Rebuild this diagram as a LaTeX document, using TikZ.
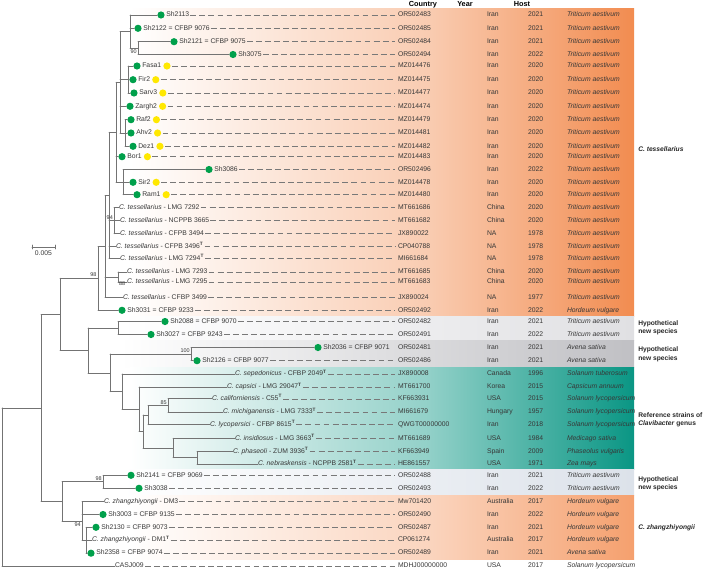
\documentclass[tikz,border=0pt]{standalone}
\usepackage{fontspec}
\setmainfont{Liberation Sans}
\usetikzlibrary{positioning}
\definecolor{orng}{RGB}{242,140,80}
\definecolor{orngb}{RGB}{245,160,110}
\definecolor{tealc}{RGB}{10,150,132}
\definecolor{grayA}{RGB}{224,224,227}
\definecolor{grayB}{RGB}{192,192,196}
\definecolor{bgray}{RGB}{220,226,234}
\definecolor{txt}{RGB}{55,55,55}
\definecolor{brc}{RGB}{115,115,115}
\definecolor{ldc}{RGB}{120,120,120}
\definecolor{grn}{RGB}{0,160,75}
\definecolor{ylw}{RGB}{255,232,0}
\newcommand{\fsz}{\fontsize{5.1pt}{6.1pt}\selectfont}
\newcommand{\fszb}{\fontsize{4.1pt}{4.9pt}\selectfont}
\newcommand{\fszh}{\fontsize{5.5pt}{6.5pt}\selectfont}
\newcommand{\fszr}{\fontsize{5pt}{6.3pt}\selectfont}
\newcommand{\typeT}{\textsuperscript{\textbf{T}}}
\newcommand{\tedge}[2]{\draw[br] (#1 |- #2) -- (#2);}
\newcommand{\tvspan}[3]{\draw[br] (#1 |- #2) -- (#1 |- #3);}
\newcommand{\gleaf}[4]{\node[gdot] (g#1) at (#2,#3) {};\node[lbl, right=1.1pt of g#1] (t#1) {#4};}
\newcommand{\yleaf}[1]{\node[ydot, right=1.4pt of t#1] (y#1) {};}
\newcommand{\tleaf}[4]{\node[lbl] (t#1) at (#2,#3) {#4};}
\newcommand{\ldr}[2]{\draw[leader] (#1.east) -- (#1.east -| acc#2.west);}
\newcommand{\bandtwo}[3]{%
 \shade[left color=white, right color=#3!45!white] (130,#1) rectangle (431,#2);
 \shade[left color=#3!45!white, right color=#3] (430,#1) rectangle (634,#2);}
\newcommand{\bandone}[3]{%
 \shade[left color=white, right color=#3] (120,#1) rectangle (634,#2);}
\tikzset{
 lbl/.style={anchor=west, inner sep=0pt, outer sep=0pt, font=\fsz, text=txt, text height=3.7pt, text depth=1.1pt},
 br/.style={draw=brc, line width=0.6pt, line cap=round},
 leader/.style={draw=ldc, line width=0.45pt, dash pattern=on 4.4pt off 2.4pt, shorten <=0.8pt, shorten >=2.2pt},
 gdot/.style={circle, fill=grn, inner sep=0pt, minimum size=5.4pt},
 ydot/.style={circle, fill=ylw, inner sep=0pt, minimum size=5.4pt},
 bs/.style={font=\fszb, text=txt, inner sep=0.4pt},
 rl/.style={anchor=west, inner sep=0pt, font=\fszr\bfseries, text=black!85, align=left},
 hdr/.style={inner sep=0pt, font=\fszh\bfseries, text=black},
}
\begin{document}
\begin{tikzpicture}[x=0.75pt,y=-0.75pt]
\useasboundingbox (0,0) rectangle (706,571);
% background bands
\bandtwo{8}{316}{orng}
\bandone{316}{340.8}{grayA}
\bandone{340.8}{367.3}{grayB}
\bandtwo{367.3}{469.3}{tealc}
\bandone{469.3}{495}{bgray}
\bandtwo{495}{559.5}{orngb}
% headers
\node[hdr] (hC) at (423,4.5) {Country};
\node[hdr] (hY) at (465,4.5) {Year};
\node[hdr] (hH) at (522,4.5) {Host};
% table
\foreach \i/\y/\ac/\co/\yr/\ho in {
1/15/OR502483/Iran/2021/Triticum aestivum,
2/28.3/OR502485/Iran/2021/Triticum aestivum,
3/41.7/OR502484/Iran/2021/Triticum aestivum,
4/54.5/OR502494/Iran/2022/Triticum aestivum,
5/66/MZ014476/Iran/2020/Triticum aestivum,
6/79.7/MZ014475/Iran/2020/Triticum aestivum,
7/93/MZ014477/Iran/2020/Triticum aestivum,
8/106.3/MZ014474/Iran/2020/Triticum aestivum,
9/119.7/MZ014479/Iran/2020/Triticum aestivum,
10/133/MZ014481/Iran/2020/Triticum aestivum,
11/146.3/MZ014482/Iran/2020/Triticum aestivum,
12/156.7/MZ014483/Iran/2020/Triticum aestivum,
13/169.5/OR502496/Iran/2022/Triticum aestivum,
14/182.3/MZ014478/Iran/2020/Triticum aestivum,
15/194.7/MZ014480/Iran/2020/Triticum aestivum,
16/207.7/MT661686/China/2020/Triticum aestivum,
17/220.7/MT661682/China/2020/Triticum aestivum,
18/233.7/JX890022/NA/1978/Triticum aestivum,
19/246.5/CP040788/NA/1978/Triticum aestivum,
20/258.7/MI661684/NA/1978/Triticum aestivum,
21/272/MT661685/China/2020/Triticum aestivum,
22/282.2/MT661683/China/2020/Triticum aestivum,
23/297.3/JX890024/NA/1977/Triticum aestivum,
24/310.3/OR502492/Iran/2022/Hordeum vulgare,
25/321.5/OR502482/Iran/2021/Triticum aestivum,
26/334.5/OR502491/Iran/2022/Triticum aestivum,
27/347.5/OR502481/Iran/2021/Avena sativa,
28/360.7/OR502486/Iran/2021/Avena sativa,
29/374/JX890008/Canada/1996/Solanum tuberosum,
30/387/MT661700/Korea/2015/Capsicum annuum,
31/398.8/KF663931/USA/2015/Solanum lycopersicum,
32/412/MI661679/Hungary/1957/Solanum lycopersicum,
33/424.7/QWGT00000000/Iran/2018/Solanum lycopersicum,
34/438.3/MT661689/USA/1984/Medicago sativa,
35/451.5/KF663949/Spain/2009/Phaseolus vulgaris,
36/464/HE861557/USA/1971/Zea mays,
37/475.3/OR502488/Iran/2021/Triticum aestivum,
38/488.3/OR502493/Iran/2022/Triticum aestivum,
39/501.5/Mw701420/Australia/2017/Hordeum vulgare,
40/514.5/OR502490/Iran/2022/Hordeum vulgare,
41/527.3/OR502487/Iran/2021/Hordeum vulgare,
42/540/CP061274/Australia/2017/Hordeum vulgare,
43/553.2/OR502489/Iran/2021/Avena sativa,
44/566/MDHJ00000000/USA/2017/Solanum lycopersicum}{
\node[lbl] (acc\i) at (398,\y) {\ac};
\node[lbl] (co\i) at (487,\y) {\co};
\node[lbl] (yr\i) at (528,\y) {\yr};
\node[lbl] (ho\i) at (567,\y) {\itshape\ho};
}
% leaves
\gleaf{1}{161}{15}{Sh2113}
\gleaf{2}{138}{28.3}{Sh2122 = CFBP 9076}
\gleaf{3}{174}{41.7}{Sh2121 = CFBP 9075}
\gleaf{4}{233}{54.5}{Sh3075}
\gleaf{5}{137}{66}{Fasa1}\yleaf{5}
\gleaf{6}{133}{79.7}{Fir2}\yleaf{6}
\gleaf{7}{134}{93}{Sarv3}\yleaf{7}
\gleaf{8}{130}{106.3}{Zargh2}\yleaf{8}
\gleaf{9}{131}{119.7}{Raf2}\yleaf{9}
\gleaf{10}{131}{133}{Ahv2}\yleaf{10}
\gleaf{11}{133}{146.3}{Dez1}\yleaf{11}
\gleaf{12}{122}{156.7}{Bor1}\yleaf{12}
\gleaf{13}{209}{169.5}{Sh3086}
\gleaf{14}{133}{182.3}{Sir2}\yleaf{14}
\gleaf{15}{137}{194.7}{Ram1}\yleaf{15}
\tleaf{16}{119}{207.7}{\textit{C. tessellarius} - LMG 7292}
\tleaf{17}{120}{220.7}{\textit{C. tessellarius} - NCPPB 3665}
\tleaf{18}{120}{233.7}{\textit{C. tessellarius} - CFPB 3494}
\tleaf{19}{116}{246.5}{\textit{C. tessellarius} - CFPB 3496\typeT}
\tleaf{20}{120}{258.7}{\textit{C. tessellarius} - LMG 7294\typeT}
\tleaf{21}{127}{272}{\textit{C. tessellarius} - LMG 7293}
\tleaf{22}{127}{282.2}{\textit{C. tessellarius} - LMG 7295}
\tleaf{23}{123}{297.3}{\textit{C. tessellarius} - CFBP 3499}
\gleaf{24}{122}{310.3}{Sh3031 = CFBP 9233}
\gleaf{25}{165}{321.5}{Sh2088 = CFBP 9070}
\gleaf{26}{151}{334.5}{Sh3027 = CFBP 9243}
\gleaf{27}{318}{347.5}{Sh2036 = CFBP 9071}
\gleaf{28}{197}{360.7}{Sh2126 = CFBP 9077}
\tleaf{29}{235}{374}{\textit{C. sepedonicus} - CFBP 2049\typeT}
\tleaf{30}{227}{387}{\textit{C. capsici} - LMG 29047\typeT}
\tleaf{31}{212}{398.8}{\textit{C. californiensis} - C55\typeT}
\tleaf{32}{223}{412}{\textit{C. michiganensis} - LMG 7333\typeT}
\tleaf{33}{210}{424.7}{\textit{C. lycopersici} - CFBP 8615\typeT}
\tleaf{34}{235}{438.3}{\textit{C. insidiosus} - LMG 3663\typeT}
\tleaf{35}{233}{451.5}{\textit{C. phaseoli} - ZUM 3936\typeT}
\tleaf{36}{258}{464}{\textit{C. nebraskensis} - NCPPB 2581\typeT}
\gleaf{37}{131}{475.3}{Sh2141 = CFBP 9069}
\gleaf{38}{139}{488.3}{Sh3038}
\tleaf{39}{104}{501.5}{\textit{C. zhangzhiyongii} - DM3}
\gleaf{40}{103}{514.5}{Sh3003 = CFBP 9135}
\gleaf{41}{96}{527.3}{Sh2130 = CFBP 9073}
\tleaf{42}{92}{540}{\textit{C. zhangzhiyongii} - DM1\typeT}
\gleaf{43}{91}{553.2}{Sh2358 = CFBP 9074}
\tleaf{44}{115}{566}{CASJ009}
% internal nodes
\coordinate (I90) at (138,48.1);
\coordinate (I1) at (130,31.55);
\coordinate (I3) at (128,79.5);
\coordinate (I4) at (125,133);
\coordinate (I2) at (120,82.3);
\coordinate (I5) at (123,182.1);
\coordinate (U) at (116,132.2);
\coordinate (N94) at (114,220.7);
\coordinate (T2) at (109,195.45);
\coordinate (N88) at (118,277.1);
\coordinate (T1) at (105,246.4);
\coordinate (T0) at (98,278.35);
\coordinate (H1) at (118,328);
\coordinate (Hs) at (191,354.1);
\coordinate (N85) at (168,405.4);
\coordinate (Nc) at (148,415.05);
\coordinate (Ne) at (197,457.75);
\coordinate (Nd) at (173,448.0);
\coordinate (Nb) at (143,431.5);
\coordinate (Na) at (139,409.25);
\coordinate (Ref) at (122,391.6);
\coordinate (H3) at (110,372.9);
\coordinate (H) at (88,350.45);
\coordinate (B) at (60,314.4);
\coordinate (H2) at (103,481.8);
\coordinate (Zs) at (86,540.25);
\coordinate (Zz) at (82,520.9);
\coordinate (Z) at (62,501.35);
\coordinate (A) at (41,407.9);
\coordinate (R) at (2,407.9);
% tree branches
\tvspan{I90}{g3.west}{g4.west}\tedge{I90}{g3.west}\tedge{I90}{g4.west}
\tvspan{I1}{g1.west}{I90}\tedge{I1}{g1.west}\tedge{I1}{g2.west}\tedge{I1}{I90}
\tvspan{I3}{g5.west}{g7.west}\tedge{I3}{g5.west}\tedge{I3}{g6.west}\tedge{I3}{g7.west}
\tvspan{I4}{g9.west}{g11.west}\tedge{I4}{g9.west}\tedge{I4}{g10.west}\tedge{I4}{g11.west}
\tvspan{I2}{I1}{I4}\tedge{I2}{I1}\tedge{I2}{I3}\tedge{I2}{g8.west}\tedge{I2}{I4}
\tvspan{I5}{g13.west}{g15.west}\tedge{I5}{g13.west}\tedge{I5}{g14.west}\tedge{I5}{g15.west}
\tvspan{U}{I2}{I5}\tedge{U}{I2}\tedge{U}{g12.west}\tedge{U}{I5}
\tvspan{N94}{t16.west}{t18.west}\tedge{N94}{t16.west}\tedge{N94}{t17.west}\tedge{N94}{t18.west}
\tvspan{T2}{U}{t20.west}\tedge{T2}{U}\tedge{T2}{N94}\tedge{T2}{t19.west}\tedge{T2}{t20.west}
\tvspan{N88}{t21.west}{t22.west}\tedge{N88}{t21.west}\tedge{N88}{t22.west}
\tvspan{T1}{T2}{t23.west}\tedge{T1}{T2}\tedge{T1}{N88}\tedge{T1}{t23.west}
\tvspan{T0}{T1}{g24.west}\tedge{T0}{T1}\tedge{T0}{g24.west}
\tvspan{H1}{g25.west}{g26.west}\tedge{H1}{g25.west}\tedge{H1}{g26.west}
\tvspan{Hs}{g27.west}{g28.west}\tedge{Hs}{g27.west}\tedge{Hs}{g28.west}
\tvspan{N85}{t31.west}{t32.west}\tedge{N85}{t31.west}\tedge{N85}{t32.west}
\tvspan{Nc}{N85}{t33.west}\tedge{Nc}{N85}\tedge{Nc}{t33.west}
\tvspan{Ne}{t35.west}{t36.west}\tedge{Ne}{t35.west}\tedge{Ne}{t36.west}
\tvspan{Nd}{t34.west}{Ne}\tedge{Nd}{t34.west}\tedge{Nd}{Ne}
\tvspan{Nb}{Nc}{Nd}\tedge{Nb}{Nc}\tedge{Nb}{Nd}
\tvspan{Na}{t30.west}{Nb}\tedge{Na}{t30.west}\tedge{Na}{Nb}
\tvspan{Ref}{t29.west}{Na}\tedge{Ref}{t29.west}\tedge{Ref}{Na}
\tvspan{H3}{Hs}{Ref}\tedge{H3}{Hs}\tedge{H3}{Ref}
\tvspan{H}{H1}{H3}\tedge{H}{H1}\tedge{H}{H3}
\tvspan{B}{T0}{H}\tedge{B}{T0}\tedge{B}{H}
\tvspan{H2}{g37.west}{g38.west}\tedge{H2}{g37.west}\tedge{H2}{g38.west}
\tvspan{Zs}{g41.west}{g43.west}\tedge{Zs}{g41.west}\tedge{Zs}{t42.west}\tedge{Zs}{g43.west}
\tvspan{Zz}{t39.west}{Zs}\tedge{Zz}{t39.west}\tedge{Zz}{g40.west}\tedge{Zz}{Zs}
\tvspan{Z}{H2}{Zz}\tedge{Z}{H2}\tedge{Z}{Zz}
\tvspan{A}{B}{Z}\tedge{A}{B}\tedge{A}{Z}
\tvspan{R}{A}{t44.west}\tedge{R}{A}\tedge{R}{t44.west}
% leaders
\ldr{t1}{1}\ldr{t2}{2}\ldr{t3}{3}\ldr{t4}{4}
\ldr{y5}{5}\ldr{y6}{6}\ldr{y7}{7}\ldr{y8}{8}\ldr{y9}{9}\ldr{y10}{10}\ldr{y11}{11}\ldr{y12}{12}
\ldr{t13}{13}\ldr{y14}{14}\ldr{y15}{15}
\ldr{t16}{16}\ldr{t17}{17}\ldr{t18}{18}\ldr{t19}{19}\ldr{t20}{20}\ldr{t21}{21}\ldr{t22}{22}\ldr{t23}{23}
\ldr{t24}{24}\ldr{t25}{25}\ldr{t26}{26}\ldr{t28}{28}
\ldr{t29}{29}\ldr{t30}{30}\ldr{t31}{31}\ldr{t32}{32}\ldr{t33}{33}\ldr{t34}{34}\ldr{t35}{35}\ldr{t36}{36}
\ldr{t37}{37}\ldr{t38}{38}\ldr{t39}{39}\ldr{t40}{40}\ldr{t41}{41}\ldr{t42}{42}\ldr{t43}{43}\ldr{t44}{44}
% bootstrap values
\node[bs, anchor=north east] (b90) at (137.5,48.8) {90};
\node[bs, anchor=south east] (b98a) at (97.3,277.8) {98};
\node[bs, anchor=south east] (b94a) at (113.6,220.3) {94};
\node[bs, anchor=east] (b88) at (126,283.5) {88};
\node[bs, anchor=south east] (b100) at (190.5,353.6) {100};
\node[bs, anchor=south east] (b85) at (167.5,404.9) {85};
\node[bs, anchor=south east] (b98b) at (102.5,481.3) {98};
\node[bs, anchor=north east] (b94b) at (81.5,521.4) {94};
% scale bar
\coordinate (sb1) at (32,247);
\coordinate (sb2) at (55,247);
\draw[br] (sb1) -- (sb2);
\draw[br] ([yshift=1.4pt]sb1) -- ([yshift=-1.4pt]sb1);
\draw[br] ([yshift=1.4pt]sb2) -- ([yshift=-1.4pt]sb2);
\node[bs, font=\fsz, anchor=north] (sbl) at (43.5,250) {0.005};
% right labels
\node[rl] (lab1) at (638,149) {\textit{C. tessellarius}};
\node[rl] (lab2) at (638,327.5) {Hypothetical\\new species};
\node[rl] (lab3) at (638,354.2) {Hypothetical\\new species};
\node[rl] (lab4) at (638,419.5) {Reference strains of\\\textit{Clavibacter} genus};
\node[rl] (lab5) at (638,484) {Hypothetical\\new species};
\node[rl] (lab6) at (638,528) {\textit{C. zhangzhiyongii}};
\end{tikzpicture}
\end{document}
